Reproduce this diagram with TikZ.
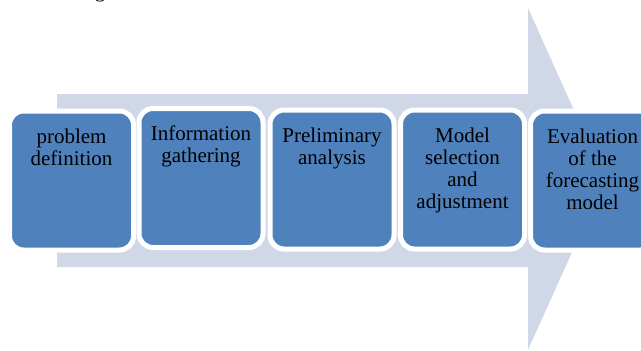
\documentclass[tikz,border=0pt]{standalone}
\usepackage{fontspec}
\setmainfont{Liberation Serif}
\definecolor{stepblue}{HTML}{4F81BD}
\definecolor{arrowgray}{HTML}{D0D8E8}
\begin{document}
\begin{tikzpicture}[x=1pt,y=-1pt,
  stepbox/.style={draw=white, line width=5pt, fill=stepblue, rounded corners=14pt,
    minimum width=124pt, minimum height=139pt, inner sep=0pt},
  steptext/.style={anchor=north, inner sep=0pt, align=center,
    font=\fontsize{21}{22}\selectfont}]
\useasboundingbox (0,0) rectangle (641,351);
% caption fragment above the figure
\node[anchor=base, inner sep=0pt, font=\fontsize{21}{21.7}\selectfont] (cap) at (100,-3) {g};
% large background arrow
\fill[arrowgray] (57,94) -- (528,94) -- (528,8) -- (605,179) -- (528,350)
  -- (528,267) -- (57,267) -- cycle;
% process steps
\node[stepbox] (b1) at (71.5,180.5) {};
\node[stepbox] (b2) at (201,178) {};
\node[stepbox] (b3) at (332,179.5) {};
\node[stepbox] (b4) at (462.5,179.5) {};
\node[stepbox] (b5) at (592.5,180.5) {};
\node[steptext] (t1) at ([yshift=-20pt]b1.north) {problem\\definition};
\node[steptext] (t2) at ([yshift=-20pt]b2.north) {Information\\gathering};
\node[steptext] (t3) at ([yshift=-20pt]b3.north) {Preliminary\\analysis};
\node[steptext] (t4) at ([yshift=-20pt]b4.north) {Model\\selection\\and\\adjustment};
\node[steptext] (t5) at ([yshift=-20pt]b5.north) {Evaluation\\of the\\forecasting\\model};
\end{tikzpicture}
\end{document}
